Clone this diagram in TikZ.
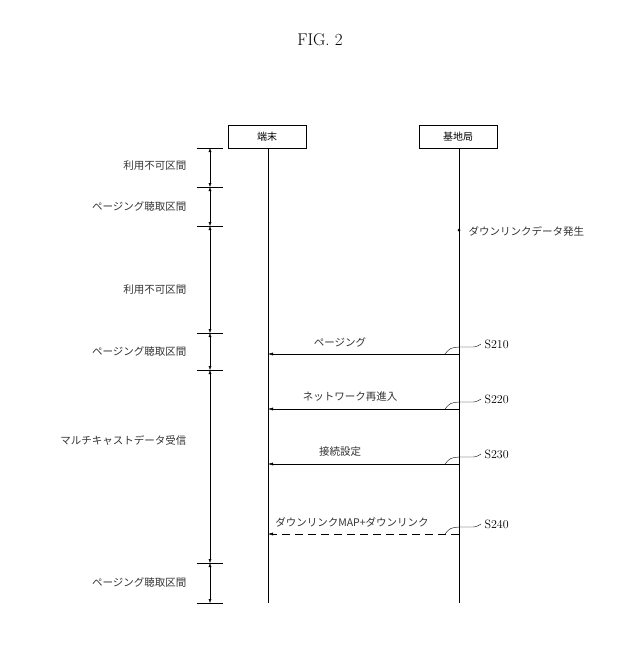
\documentclass[tikz,border=0pt]{standalone}
\usepackage{fontspec}
\newfontfamily\cjk{Noto Sans CJK JP}
\usetikzlibrary{arrows.meta}
\begin{document}
\begin{tikzpicture}[x=1pt,y=-1pt,
  ent/.style={draw,minimum width=78pt,minimum height=23pt,inner sep=0pt,font=\cjk\fontsize{10}{12}\selectfont},
  lbl/.style={font=\cjk\fontsize{10.5}{12}\selectfont,text=black!80},
  msg/.style={draw,-{Latex[length=5pt,width=3pt]}},
  sl/.style={font=\fontsize{12}{14}\selectfont},
  seg/.style={draw,{Latex[length=4pt,width=3pt]}-{Latex[length=4pt,width=3pt]}}]
\useasboundingbox (0,0) rectangle (622,654);
\node[font=\fontsize{17}{20}\selectfont] (fig) at (320,40) {FIG. 2};
\node[ent] (ue) at (267,136.5) {端末};
\node[ent] (bs) at (458,136.5) {基地局};
\coordinate (ueb) at (268,603);
\coordinate (bsb) at (459,603);
\draw (ue.south -| ueb) -- (ueb);
\draw (bs.south -| bsb) -- (bsb);
\foreach \n/\y in {t0/148,t1/187,t2/226,t3/333,t4/370,t5/563,t6/603}{
  \coordinate (\n) at (210,\y);
  \draw (197,\y) -- (223,\y);
}
\draw[seg] (t0) -- (t1);
\draw[seg] (t1) -- (t2);
\draw[seg] (t2) -- (t3);
\draw[seg] (t3) -- (t4);
\draw[seg] (t4) -- (t5);
\draw[seg] (t5) -- (t6);
\node[lbl,anchor=east] (l1) at (190,166) {利用不可区間};
\node[lbl,anchor=east] (l2) at (190,207) {ページング聴取区間};
\node[lbl,anchor=east] (l3) at (190,290) {利用不可区間};
\node[lbl,anchor=east] (l4) at (190,352) {ページング聴取区間};
\node[lbl,anchor=east] (l5) at (190,440) {マルチキャストデータ受信};
\node[lbl,anchor=east] (l6) at (190,583) {ページング聴取区間};
\fill (459,230) circle (1.5pt);
\node[lbl,anchor=west] (ev) at (465,231) {ダウンリンクデータ発生};
\foreach \y/\t/\s/\n/\cx in {354/ページング/S210/a/340,409/ネットワーク再進入/S220/b/350,464/接続設定/S230/c/340,534/ダウンリンクMAP+ダウンリンク/S240/d/352}{
  \coordinate (s\n) at (459,\y);
  \coordinate (e\n) at (268,\y);
  \node[lbl] (m\n) at (\cx,\y-12) {\t};
  \node[sl,anchor=west] (S\n) at (481,\y-10) {\s};
  \draw (445,\y) .. controls (450,\y-6) .. (459,\y-7) -- (470,\y-7) .. controls (476,\y-7) .. (S\n.west);
}
\draw[msg] (sa) -- (ea);
\draw[msg] (sb) -- (eb);
\draw[msg] (sc) -- (ec);
\draw[msg,dashed,dash pattern=on 8pt off 5pt] (sd) -- (ed);
\end{tikzpicture}
\end{document}
